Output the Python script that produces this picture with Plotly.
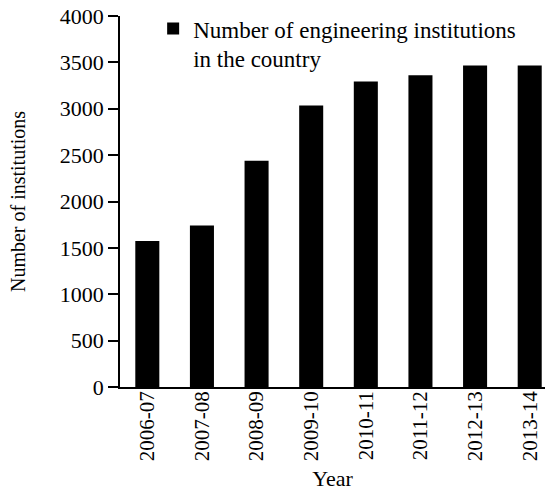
import plotly.graph_objects as go

years = ["2006-07", "2007-08", "2008-09", "2009-10", "2010-11", "2011-12", "2012-13", "2013-14"]
institutions = [1575, 1740, 2440, 3035, 3295, 3360, 3465, 3465]
y_ticks = [0, 500, 1000, 1500, 2000, 2500, 3000, 3500, 4000]

FONT = "Liberation Serif, Times New Roman, serif"

fig = go.Figure()
fig.add_trace(go.Bar(
    x=years, y=institutions,
    name="Number of engineering institutions<br>in the country",
    marker=dict(color="black", line=dict(width=0)),
    showlegend=True,
))

fig.update_layout(
    width=545, height=491,
    margin=dict(l=120, r=0, t=16, b=104),
    paper_bgcolor="white", plot_bgcolor="white",
    font=dict(family=FONT, size=22, color="black"),
    bargap=0.56,
    showlegend=True,
    legend=dict(x=0.078, y=1.024, xanchor="left", yanchor="top",
                bgcolor="rgba(0,0,0,0)", font=dict(size=23),
                itemwidth=30, valign="top", tracegroupgap=0),
    xaxis=dict(
        type="category", automargin=False,
        range=[-0.5, 7.28], showline=True, linecolor="black", linewidth=1.5,
        ticks="", tickangle=-90, tickfont=dict(size=21), ticklabelstandoff=-6,
        title=dict(text="Year", font=dict(size=22), standoff=14),
        showgrid=False, zeroline=False,
    ),
    yaxis=dict(
        automargin=False, ticklabeloverflow="allow",
        range=[0, 4000], tickvals=y_ticks, showline=True, linecolor="black",
        linewidth=1.5, ticks="outside", ticklen=10, tickcolor="black", tickwidth=1.5,
        tickfont=dict(size=22),
        title=dict(text="Number of institutions", font=dict(size=20), standoff=29),
        showgrid=False, zeroline=False,
    ),
)

fig.write_html("out.html", config={"displayModeBar": False},
               post_script="document.body.style.margin='0';")
